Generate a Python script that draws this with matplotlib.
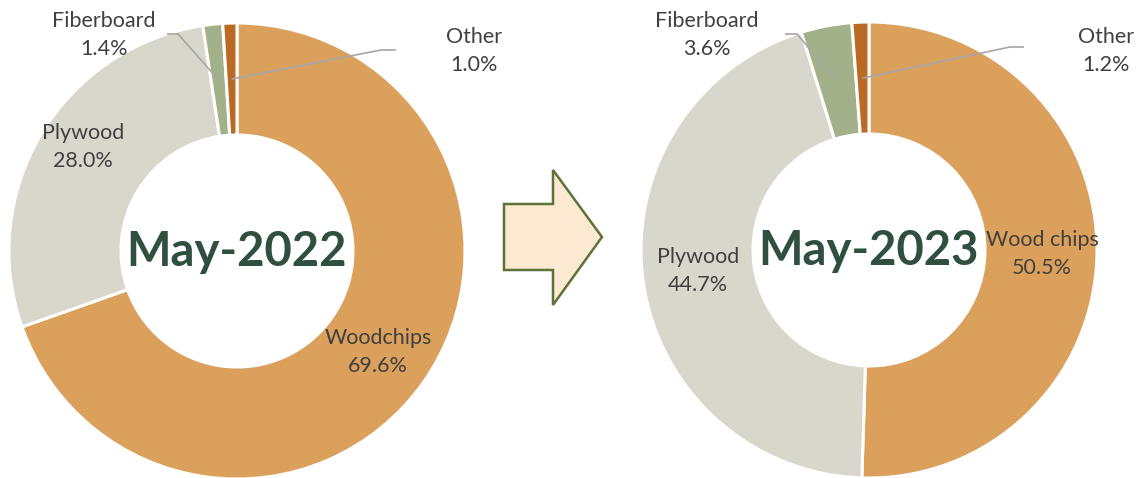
import matplotlib
matplotlib.use("Agg")
import matplotlib.pyplot as plt
import numpy as np
from matplotlib.patches import Polygon

categories = ["Woodchips", "Plywood", "Fiberboard", "Other"]
labels_2022 = ["Woodchips", "Plywood", "Fiberboard", "Other"]
labels_2023 = ["Wood chips", "Plywood", "Fiberboard", "Other"]
values_2022 = [69.6, 28.0, 1.4, 1.0]
values_2023 = [50.5, 44.7, 3.6, 1.2]
titles = ["May-2022", "May-2023"]

colors = ["#DBA05C", "#D9D7CB", "#A3B18A", "#BA6A25"]
text_color = "#404040"
title_color = "#2F4F3F"
line_color = "#A6A6A6"

W, H = 1139, 478
fig = plt.figure(figsize=(W / 100, H / 100), dpi=100)
plt.rcParams["font.family"] = ["Lato", "DejaVu Sans"]

R_OUT = 228.0
R_IN = 116.0


def make_ax(cx, cy):
    ax = fig.add_axes([(cx - R_OUT) / W, (H - (cy + R_OUT)) / H,
                       2 * R_OUT / W, 2 * R_OUT / H])
    return ax


def p2d(cx, cy, px, py):
    return ((px - cx) / R_OUT, (cy - py) / R_OUT)


def draw(cx, cy, values, labels, title, label_px, leaders):
    ax = make_ax(cx, cy)
    wedges, _ = ax.pie(values, colors=colors, startangle=90, counterclock=False,
                       radius=1.0,
                       wedgeprops=dict(width=1 - R_IN / R_OUT, edgecolor="white",
                                       linewidth=2.2))
    ax.set_xlim(-1, 1)
    ax.set_ylim(-1, 1)
    ax.set_aspect("equal")
    ax.axis("off")
    ax.text(0, -0.005, title, ha="center", va="center", fontsize=34,
            fontweight="bold", color=title_color)
    for w, lab, v, (px, py) in zip(wedges, labels, values, label_px):
        x, y = p2d(cx, cy, px, py)
        ax.text(x, y, f"{lab}\n{v:.1f}%", ha="center", va="center",
                fontsize=15.5, color=text_color, linespacing=1.5)
    rmid = (1 + R_IN / R_OUT) / 2
    for idx, sx, sy, ex, ey in leaders:
        w = wedges[idx]
        ang = np.deg2rad((w.theta1 + w.theta2) / 2)
        tx, ty = rmid * np.cos(ang), rmid * np.sin(ang)
        x0, y0 = p2d(cx, cy, sx, sy)
        x1, y1 = p2d(cx, cy, ex, ey)
        ax.plot([x0, x1, tx], [y0, y1, ty], color=line_color, lw=1.2,
                solid_capstyle="butt", clip_on=False)


draw(237, 251, values_2022, labels_2022, titles[0],
     [(378, 352), (83, 147), (104, 35), (474, 51)],
     [(2, 167, 34, 178, 34), (3, 396, 50, 381, 50)])
draw(869, 250, values_2023, labels_2023, titles[1],
     [(1042, 254), (698, 271), (707, 35), (1106, 51)],
     [(2, 785, 34, 797, 34), (3, 1024, 47, 1010, 47)])

# arrow between the charts
arrow_px = [(504, 204), (553, 204), (553, 170), (602, 237), (553, 305),
            (553, 270), (504, 270)]
arrow = Polygon([(x / W, 1 - y / H) for x, y in arrow_px], closed=True,
                transform=fig.transFigure, facecolor="#FBE9D1",
                edgecolor="#5E7338", linewidth=1.8)
fig.patches.append(arrow)

fig.savefig("out.png", dpi=100, facecolor="white")
